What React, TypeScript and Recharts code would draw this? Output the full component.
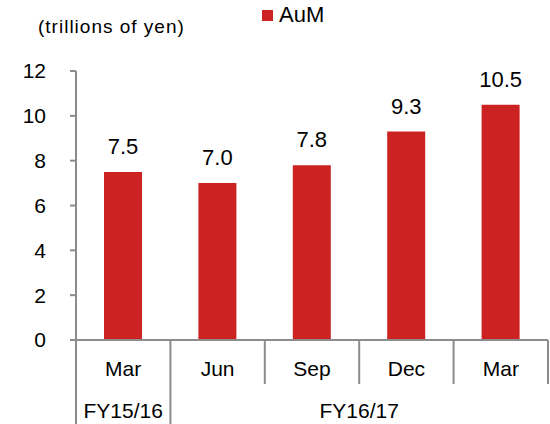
import { BarChart, Bar, XAxis, YAxis, LabelList } from "recharts"

const months = ["Mar", "Jun", "Sep", "Dec", "Mar"]
const aum = [7.5, 7.0, 7.8, 9.3, 10.5]
const yTicks = [0, 2, 4, 6, 8, 10, 12]
const fiscalGroups = [
  { label: "FY15/16", start: 0, end: 0 },
  { label: "FY16/17", start: 1, end: 4 },
]

const W = 550
const H = 424
const M = { top: 71, right: 2, left: 0, bottom: 0 }
const Y_W = 76
const BAND = (W - M.left - M.right - Y_W) / months.length
const FONT = "'Liberation Sans', Arial, sans-serif"
const GRID = "#8c8c8c"
const RED = "#cc2222"

const data = months.map((m, i) => ({ key: `${m}-${i}`, month: m, value: aum[i] }))

function MonthTick(props: any) {
  const { x, y, index } = props
  const half = BAND / 2
  const group = fiscalGroups.find((g) => g.start === index)
  const isLast = index === months.length - 1
  return (
    <g>
      <line x1={x - half} y1={y} x2={x - half} y2={group ? H : y + 44} stroke={GRID} strokeWidth={2} />
      {isLast && <line x1={x + half} y1={y} x2={x + half} y2={y + 44} stroke={GRID} strokeWidth={2} />}
      <text x={x} y={y + 36} textAnchor="middle" fontSize={21} fontFamily={FONT} fill="#000">
        {months[index]}
      </text>
      {group && (
        <text
          x={x + ((group.end - group.start) * BAND) / 2}
          y={y + 78}
          textAnchor="middle"
          fontSize={21}
          fontFamily={FONT}
          fill="#000"
        >
          {group.label}
        </text>
      )}
    </g>
  )
}

export default function App() {
  return (
    <div style={{ position: "absolute", left: 0, top: 0, width: W, height: H, background: "#fff" }}>
      <div
        style={{
          position: "absolute",
          left: 38,
          top: 16,
          fontFamily: FONT,
          fontSize: 19,
          letterSpacing: 1,
          color: "#000",
        }}
      >
        (trillions of yen)
      </div>
      <div
        style={{
          position: "absolute",
          left: 262,
          top: 2,
          display: "flex",
          alignItems: "center",
          fontFamily: FONT,
          fontSize: 22,
          color: "#000",
        }}
      >
        <span style={{ width: 11, height: 11, background: RED, display: "inline-block", marginRight: 6 }} />
        AuM
      </div>
      <BarChart width={W} height={H} data={data} margin={M}>
        <YAxis
          width={Y_W}
          domain={[0, 12]}
          ticks={yTicks}
          interval={0}
          axisLine={{ stroke: GRID, strokeWidth: 2 }}
          tickLine={{ stroke: GRID, strokeWidth: 2 }}
          tickSize={6}
          tickMargin={24}
          tick={{ fontSize: 21, fontFamily: FONT, fill: "#000" }}
        />
        <XAxis
          dataKey="key"
          height={H - 340}
          interval={0}
          axisLine={{ stroke: GRID, strokeWidth: 2 }}
          tickLine={false}
          tickSize={0}
          tickMargin={0}
          tick={<MonthTick />}
        />
        <Bar dataKey="value" fill={RED} barSize={38} isAnimationActive={false}>
          <LabelList
            dataKey="value"
            position="top"
            offset={18}
            formatter={(v: any) => Number(v).toFixed(1)}
            style={{ fontSize: 22, fontFamily: FONT, fill: "#000" }}
          />
        </Bar>
      </BarChart>
    </div>
  )
}
